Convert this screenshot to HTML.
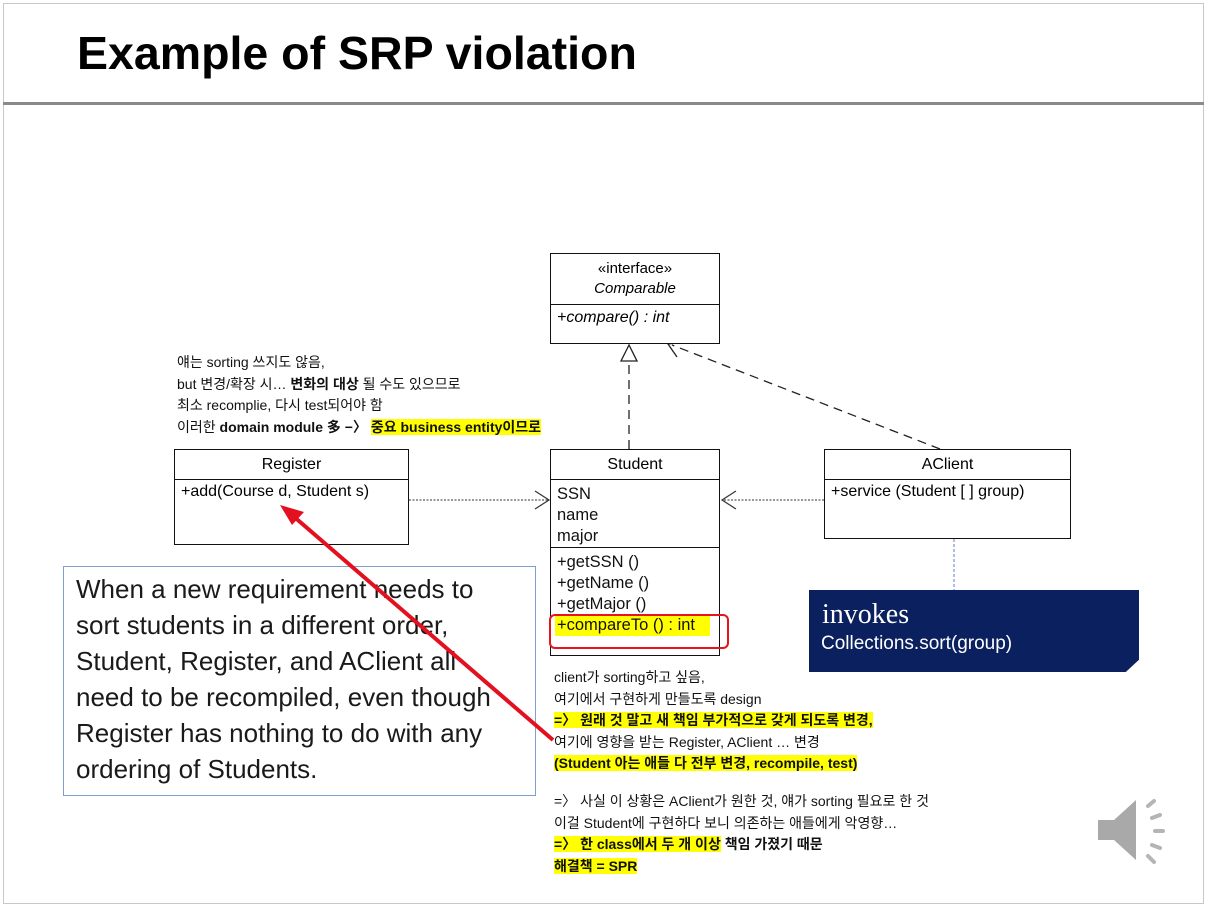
<!DOCTYPE html>
<html><head><meta charset="utf-8"><style>
*{margin:0;padding:0;box-sizing:border-box}
body{width:1207px;height:907px;background:#fff;position:relative;overflow:hidden;font-family:"Liberation Sans","Noto Sans CJK KR",sans-serif}
.a{position:absolute;white-space:nowrap}
.box{position:absolute;border:1.5px solid #111;background:#fff}
.k{font-size:14px;line-height:21.5px;color:#111}
.hl{background:#ffff00}
.b{font-weight:bold}
.u{font-size:16.5px;line-height:21px;color:#111}
</style></head><body>
<div class="a" style="left:3px;top:3px;width:1201px;height:901px;border:1px solid #c8c8c8"></div>
<div class="a" style="left:3px;top:102px;width:1201px;height:3px;background:#8a8a8a"></div>
<div class="a b" style="left:77px;top:26px;font-size:46.5px;line-height:54px;color:#000">Example of SRP violation</div>

<svg class="a" style="left:0;top:0" width="1207" height="907">
<line x1="629" y1="449" x2="629" y2="362" stroke="#222" stroke-width="1.3" stroke-dasharray="9,6"/>
<polygon points="629,345 621,361 637,361" fill="#fff" stroke="#222" stroke-width="1.3"/>
<line x1="940" y1="449" x2="672" y2="345" stroke="#222" stroke-width="1.3" stroke-dasharray="9,6"/>
<polyline points="677,357 668,344 684,342" fill="none" stroke="#222" stroke-width="1.3"/>
<line x1="409" y1="500" x2="548" y2="500" stroke="#333" stroke-width="1" stroke-dasharray="2,1.5"/>
<polyline points="535,491 549,500 535,509" fill="none" stroke="#333" stroke-width="1.2"/>
<line x1="824" y1="500" x2="722" y2="500" stroke="#333" stroke-width="1" stroke-dasharray="2,1.5"/>
<polyline points="736,491 722,500 736,509" fill="none" stroke="#333" stroke-width="1.2"/>
<line x1="954" y1="539" x2="954" y2="590" stroke="#5b7fcf" stroke-width="1" stroke-dasharray="3,2"/>
</svg>

<div class="box" style="left:550px;top:253px;width:170px;height:91px">
<div style="height:51px;border-bottom:1.5px solid #111;text-align:center;font-size:15px;line-height:20px;padding-top:5px">«interface»<br><i>Comparable</i></div>
<div style="padding:4px 6px;font-size:16px;font-style:italic">+compare() : int</div>
</div>

<div class="box" style="left:174px;top:449px;width:235px;height:96px">
<div style="height:30px;border-bottom:1.5px solid #111;text-align:center;font-size:16px;line-height:30px">Register</div>
<div style="padding:3px 6px;font-size:16px">+add(Course d, Student s)</div>
</div>

<div class="box" style="left:550px;top:449px;width:170px;height:207px">
<div style="height:30px;border-bottom:1.5px solid #111;text-align:center;font-size:16px;line-height:30px">Student</div>
<div style="height:68px;border-bottom:1.5px solid #111;padding:4px 6px 0" class="u">SSN<br>name<br>major</div>
<div style="padding:4px 6px 0" class="u">+getSSN ()<br>+getName ()<br>+getMajor ()<br><span class="hl" style="display:inline-block;width:155px;margin-left:-2px;padding-left:2px">+compareTo () : int</span></div>
</div>
<div class="a" style="left:549px;top:614px;width:180px;height:35px;border:2.5px solid #e8131b;border-radius:6px"></div>

<div class="box" style="left:824px;top:449px;width:247px;height:90px">
<div style="height:30px;border-bottom:1.5px solid #111;text-align:center;font-size:16px;line-height:30px">AClient</div>
<div style="padding:3px 6px;font-size:16px">+service (Student [ ] group)</div>
</div>

<div class="a" style="left:809px;top:590px;width:330px;height:82px;background:#0b205e;clip-path:polygon(0 0,100% 0,100% 85%,96% 100%,0 100%)">
<div style="position:absolute;left:13px;top:8px;color:#fff;font-family:'Liberation Serif',serif;font-size:28px;line-height:34px">invokes</div>
<div style="position:absolute;left:12px;top:42px;color:#fff;font-size:19px;line-height:24px">Collections.sort(group)</div>
</div>

<div class="a k" style="left:177px;top:352px">얘는 sorting 쓰지도 않음,<br>but 변경/확장 시… <span class="b">변화의 대상</span> 될 수도 있으므로<br>최소 recomplie, 다시 test되어야 함<br>이러한 <span class="b">domain module 多 −〉</span> <span class="hl b">중요 business entity이므로</span></div>

<div class="a" style="left:63px;top:566px;width:473px;height:230px;border:1.5px solid #7f9fcf;background:#fff"></div>
<div class="a" style="left:76px;top:571px;font-size:26px;line-height:36px;color:#1a1a1a">When a new requirement needs to<br>sort students in a different order,<br>Student, Register, and AClient all<br>need to be recompiled, even though<br>Register has nothing to do with any<br>ordering of Students.</div>

<div class="a k" style="left:554px;top:667px">client가 sorting하고 싶음,<br>여기에서 구현하게 만들도록 design<br><span class="hl b">=〉 원래 것 말고 새 책임 부가적으로 갖게 되도록 변경,</span><br>여기에 영향을 받는 Register, AClient … 변경<br><span class="hl b">(Student 아는 애들 다 전부 변경, recompile, test)</span></div>
<div class="a k" style="left:554px;top:791px">=〉 사실 이 상황은 AClient가 원한 것, 얘가 sorting 필요로 한 것<br>이걸 Student에 구현하다 보니 의존하는 애들에게 악영향…<br><span class="hl b">=〉 한 class에서 두 개 이상</span> <span class="b">책임 가졌기 때문</span><br><span class="hl b">해결책 = SPR</span></div>

<svg class="a" style="left:0;top:0" width="1207" height="907">
<line x1="553" y1="740" x2="292" y2="515" stroke="#e3101f" stroke-width="4"/>
<polygon points="280,505 304,512 292,525" fill="#e3101f"/>
<polygon points="1098,820 1114,820 1136,800 1136,860 1114,840 1098,840" fill="#a9a9a9"/>
<g stroke="#b5b5b5" stroke-width="4" stroke-linecap="round">
<line x1="1148" y1="806" x2="1154" y2="801"/><line x1="1152" y1="818" x2="1160" y2="815"/>
<line x1="1155" y1="831" x2="1163" y2="831"/><line x1="1152" y1="845" x2="1160" y2="848"/>
<line x1="1148" y1="856" x2="1154" y2="862"/></g>
</svg>
</body></html>
